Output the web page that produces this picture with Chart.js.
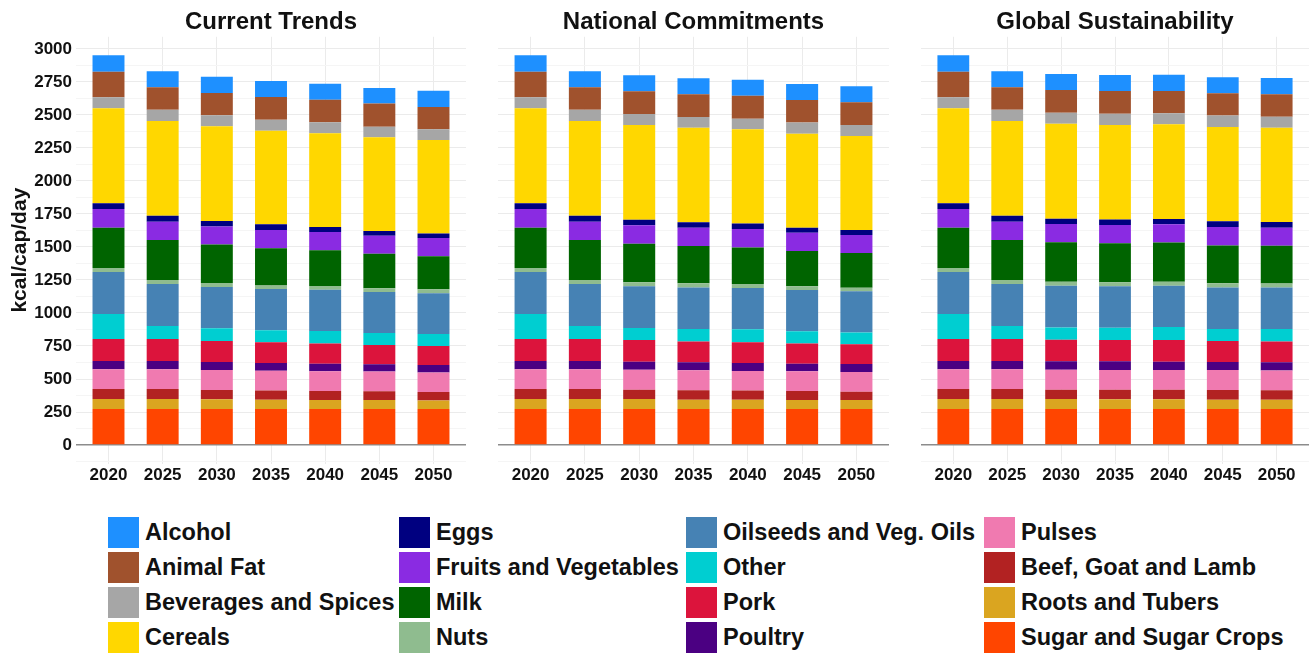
<!DOCTYPE html>
<html><head><meta charset="utf-8">
<script src="https://cdn.jsdelivr.net/npm/chart.js@4"></script>
<style>
html,body{margin:0;padding:0;background:#fff;width:1309px;height:654px;overflow:hidden;font-family:'Liberation Sans',Arial,sans-serif}
.panel{position:absolute;top:0;height:492px}
.lg{position:absolute;height:31px;display:flex;align-items:center;white-space:nowrap;font-weight:bold;font-size:23.5px;color:#111}
.sw{width:31px;height:31px;margin-right:6px;flex:none}
</style></head>
<body>
<div class="panel" style="left:0;width:470px"><canvas id="c1"></canvas></div>
<div class="panel" style="left:498px;width:391px"><canvas id="c2"></canvas></div>
<div class="panel" style="left:921px;width:388px"><canvas id="c3"></canvas></div>
<div id="legend"></div>
<script>
// ---- data ----
const years = [2020, 2025, 2030, 2035, 2040, 2045, 2050];
const yTicks = [-125,0,125,250,375,500,625,750,875,1000,1125,1250,1375,1500,1625,1750,1875,2000,2125,2250,2375,2500,2625,2750,2875,3000];
const scenarioTitles = ["Current Trends", "National Commitments", "Global Sustainability"];
const categories = ["Sugar and Sugar Crops","Roots and Tubers","Beef, Goat and Lamb","Pulses","Poultry","Pork","Other","Oilseeds and Veg. Oils","Nuts","Milk","Fruits and Vegetables","Eggs","Cereals","Beverages and Spices","Animal Fat","Alcohol"];
const colors = ["#FF4500","#DAA520","#B22222","#F07AB0","#4B0082","#DC143C","#00CED1","#4682B4","#8FBC8F","#006400","#8A2BE2","#000080","#FFD700","#A6A6A6","#A0522D","#1E90FF"];
const legendOrder = ["Alcohol","Animal Fat","Beverages and Spices","Cereals","Eggs","Fruits and Vegetables","Milk","Nuts","Oilseeds and Veg. Oils","Other","Pork","Poultry","Pulses","Beef, Goat and Lamb","Roots and Tubers","Sugar and Sugar Crops"];

// Current Trends
const CT_Sugar   = [273,273,273,273,273,273,273];
const CT_Roots   = [75,75,73,70,68,68,65];
const CT_Beef    = [76,76,71,69,68,66,63];
const CT_Pulses  = [149,149,151,151,149,149,149];
const CT_Poultry = [63,63,61,58,58,55,56];
const CT_Pork    = [167,167,159,157,152,147,144];
const CT_Other   = [189,98,96,91,96,90,91];
const CT_Oil     = [318,319,313,313,313,311,308];
const CT_Nuts    = [31,30,30,27,27,28,30];
const CT_Milk    = [305,303,291,281,271,262,250];
const CT_Fruits  = [142,139,138,139,138,137,139];
const CT_Eggs    = [43,45,41,43,38,35,35];
const CT_Cereals = [719,717,717,709,710,710,707];
const CT_Bev     = [84,86,83,83,83,80,81];
const CT_AnFat   = [194,169,169,172,172,175,169];
const CT_Alcohol = [124,122,124,121,121,118,124];

// National Commitments
const NC_Sugar   = [273,273,273,273,273,273,273];
const NC_Roots   = [75,75,75,70,70,68,68];
const NC_Beef    = [76,76,71,71,69,68,63];
const NC_Pulses  = [149,149,152,152,149,149,149];
const NC_Poultry = [63,63,60,60,60,58,61];
const NC_Pork    = [167,167,164,159,157,152,149];
const NC_Other   = [189,98,91,94,98,93,90];
const NC_Oil     = [318,319,316,315,313,313,311];
const NC_Nuts    = [31,30,30,31,31,28,28];
const NC_Milk    = [305,303,293,282,277,268,262];
const NC_Fruits  = [142,139,139,139,139,138,137];
const NC_Eggs    = [43,45,43,41,41,38,38];
const NC_Cereals = [719,717,717,717,714,712,712];
const NC_Bev     = [84,86,83,81,81,84,83];
const NC_AnFat   = [194,169,172,171,174,171,172];
const NC_Alcohol = [124,122,121,122,121,122,121];

// Global Sustainability
const GS_Sugar   = [273,273,273,273,273,273,273];
const GS_Roots   = [75,75,75,73,73,70,70];
const GS_Beef    = [76,76,71,73,73,74,71];
const GS_Pulses  = [149,149,152,149,149,151,151];
const GS_Poultry = [63,63,63,66,63,61,61];
const GS_Pork    = [167,167,164,161,164,159,159];
const GS_Other   = [189,98,93,94,99,91,93];
const GS_Oil     = [318,319,316,313,313,315,316];
const GS_Nuts    = [31,30,30,30,30,31,30];
const GS_Milk    = [305,303,298,296,296,287,285];
const GS_Fruits  = [142,139,139,139,139,139,137];
const GS_Eggs    = [43,45,40,42,40,43,43];
const GS_Cereals = [719,717,720,715,717,715,714];
const GS_Bev     = [84,86,83,86,83,86,84];
const GS_AnFat   = [194,169,172,172,170,169,169];
const GS_Alcohol = [124,122,121,121,123,121,124];

const CT = [CT_Sugar,CT_Roots,CT_Beef,CT_Pulses,CT_Poultry,CT_Pork,CT_Other,CT_Oil,CT_Nuts,CT_Milk,CT_Fruits,CT_Eggs,CT_Cereals,CT_Bev,CT_AnFat,CT_Alcohol];
const NC = [NC_Sugar,NC_Roots,NC_Beef,NC_Pulses,NC_Poultry,NC_Pork,NC_Other,NC_Oil,NC_Nuts,NC_Milk,NC_Fruits,NC_Eggs,NC_Cereals,NC_Bev,NC_AnFat,NC_Alcohol];
const GS = [GS_Sugar,GS_Roots,GS_Beef,GS_Pulses,GS_Poultry,GS_Pork,GS_Other,GS_Oil,GS_Nuts,GS_Milk,GS_Fruits,GS_Eggs,GS_Cereals,GS_Bev,GS_AnFat,GS_Alcohol];

// ---- charts ----
const FONT = "'Liberation Sans', Arial, sans-serif";
const TXT = '#111';
function gridColor(ctx){
  const v = ctx.tick ? ctx.tick.value : null;
  if (v === 0) return '#8c8c8c';
  return (v % 250 === 0) ? '#ebebeb' : '#f5f5f5';
}
function makeChart(id, title, series, first){
  const datasets = series.map((vals, i) => ({
    label: categories[i],
    data: years.map((yr, j) => ({x: yr, y: vals[j]})),
    backgroundColor: colors[i],
    borderWidth: 0,
    categoryPercentage: 1,
    barPercentage: 0.59
  }));
  new Chart(document.getElementById(id), {
    type: 'bar',
    data: {datasets},
    options: {
      responsive: true, maintainAspectRatio: false, animation: false,
      layout: {padding: {left: first ? 8 : 0, right: first ? 4 : 0, top: 0, bottom: 0}},
      plugins: {
        legend: {display: false}, tooltip: {enabled: false},
        title: {display: true, text: title, fullSize: false, color: TXT,
                font: {family: FONT, size: 24, weight: 'bold'}, padding: {top: 8, bottom: 0}}
      },
      scales: {
        x: {
          type: 'linear', stacked: true, min: 2017, max: 2053, offset: false,
          afterBuildTicks: s => { s.ticks = years.map(v => ({value: v})); },
          afterFit: s => { s.height = 28.5; },
          grid: {color: '#ebebeb', offset: false, drawTicks: false},
          border: {display: false},
          ticks: {color: TXT, padding: 2, font: {family: FONT, size: 17, weight: 'bold'},
                  callback: v => String(v), maxRotation: 0, autoSkip: false}
        },
        y: {
          stacked: true, min: -140, max: 3092,
          afterBuildTicks: s => { s.ticks = yTicks.map(v => ({value: v})); },
          afterFit: s => { s.width = first ? 68 : 0; },
          grid: {color: gridColor, lineWidth: c => (c.tick && c.tick.value === 0) ? 1.5 : 1, drawTicks: false},
          border: {display: false},
          title: {display: first, text: 'kcal/cap/day', color: TXT, padding: 0,
                  font: {family: FONT, size: 21, weight: 'bold'}},
          ticks: {display: first, color: TXT, padding: 4, autoSkip: false,
                  font: {family: FONT, size: 17, weight: 'bold'},
                  callback: v => (v >= 0 && v % 250 === 0) ? String(v) : ''}
        }
      }
    }
  });
}
makeChart('c1', scenarioTitles[0], CT, true);
makeChart('c2', scenarioTitles[1], NC, false);
makeChart('c3', scenarioTitles[2], GS, false);

// ---- legend (HTML) ----
const colX = [108, 399, 686, 984];
const rowY = [516.5, 551.5, 586.5, 621.5];
const lg = document.getElementById('legend');
legendOrder.forEach((name, k) => {
  const col = Math.floor(k / 4), row = k % 4;
  const idx = categories.indexOf(name);
  const d = document.createElement('div');
  d.className = 'lg';
  d.style.left = colX[col] + 'px';
  d.style.top = rowY[row] + 'px';
  const sw = document.createElement('span');
  sw.className = 'sw';
  sw.style.background = colors[idx];
  const t = document.createElement('span');
  t.textContent = name;
  d.appendChild(sw); d.appendChild(t);
  lg.appendChild(d);
});
</script>
</body></html>
